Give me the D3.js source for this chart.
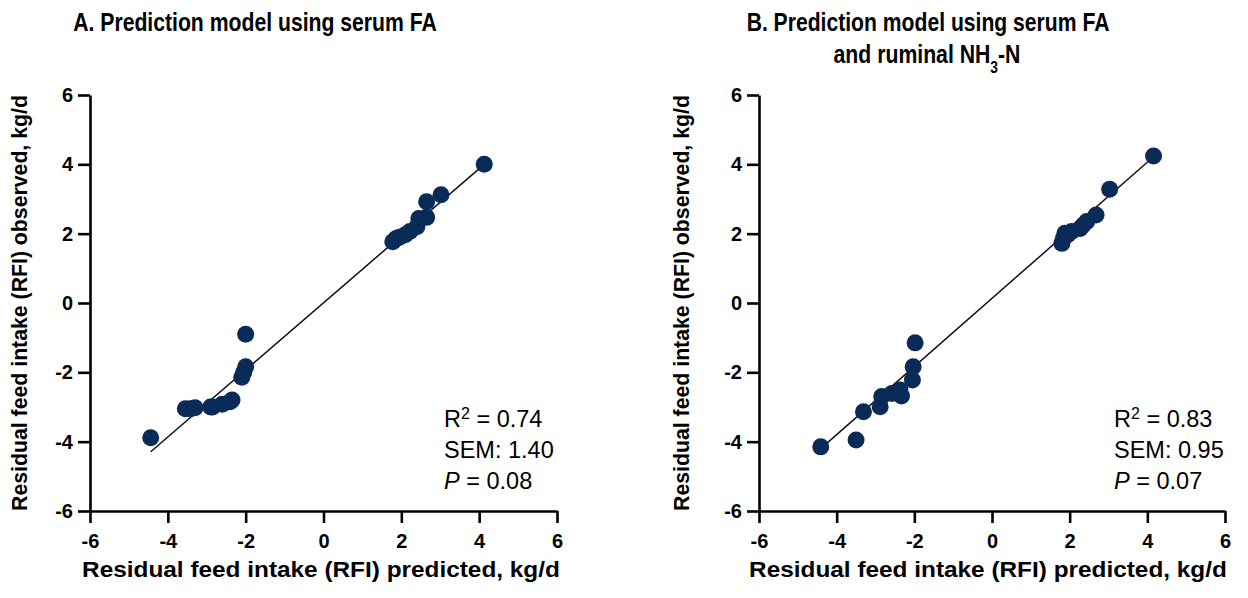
<!DOCTYPE html>
<html>
<head>
<meta charset="utf-8">
<script src="https://cdn.jsdelivr.net/npm/d3@7"></script>
<style>
  body { margin: 0; background: #fff; }
  svg text { fill: #000; }
</style>
</head>
<body>
<div id="chart"></div>
<script>
var svgWidth = 1248;
var svgHeight = 598;

// Data
var tickValues = [-6, -4, -2, 0, 2, 4, 6];

var predA = [-4.44, -3.55, -3.42, -3.3, -2.9, -2.85, -2.6, -2.4, -2.35, -2.1, -2.05, -2.0, -2.0,
             1.78, 1.86, 1.95, 2.1, 2.22, 2.4, 2.45, 2.65, 2.65, 3.02, 4.13];
var obsA  = [-3.89, -3.05, -3.05, -3.02, -3.0, -3.0, -2.92, -2.85, -2.8, -2.14, -2.0, -1.84, -0.9,
             1.77, 1.85, 1.9, 1.97, 2.06, 2.2, 2.44, 2.47, 2.92, 3.12, 4.0];
var lineA = {x: [-4.44, 4.13], y: [-4.29, 4.0]};

var predB = [-4.41, -3.5, -3.31, -2.88, -2.84, -2.58, -2.37, -2.33, -2.05, -2.03, -1.98,
             1.8, 1.84, 1.88, 1.95, 2.05, 2.27, 2.35, 2.44, 2.68, 3.03, 4.16];
var obsB  = [-4.15, -3.95, -3.14, -2.99, -2.7, -2.61, -2.51, -2.68, -2.22, -1.84, -1.15,
             1.72, 1.87, 2.01, 1.97, 2.06, 2.15, 2.25, 2.35, 2.54, 3.28, 4.24];
var lineB = {x: [-4.41, 4.16], y: [-4.2, 4.22]};

var statsA = ["0.74", "1.40", "0.08"];
var statsB = ["0.83", "0.95", "0.07"];

var dotColor = "#0a2a57";
var narrowFont = "'Liberation Sans Narrow', 'Arial Narrow', 'Liberation Sans', Arial, sans-serif";
var plainFont = "'Liberation Sans', Arial, sans-serif";

var svg = d3.select("#chart")
    .append("svg")
    .attr("width", svgWidth)
    .attr("height", svgHeight);

// squeeze a text horizontally to a measured width, around its anchor
function fit(sel, w, base) {
    var bw = sel.node().getBBox().width;
    var k = w / bw;
    sel.attr("transform", base + " scale(" + k + ",1)");
}

function drawPanel(opt) {
    var x = d3.scaleLinear().domain([-6, 6]).range([opt.left, opt.right]);
    var y = d3.scaleLinear().domain([-6, 6]).range([511, 95]);

    var g = svg.append("g");

    var xAxis = g.append("g")
        .attr("transform", "translate(0,511)")
        .call(d3.axisBottom(x).tickValues(tickValues).tickFormat(d => String(d))
            .tickSize(12).tickSizeOuter(0).tickPadding(11));
    var yAxis = g.append("g")
        .attr("transform", `translate(${opt.left},0)`)
        .call(d3.axisLeft(y).tickValues(tickValues).tickFormat(d => String(d))
            .tickSize(12).tickSizeOuter(0).tickPadding(5));

    [xAxis, yAxis].forEach(function(a) {
        a.selectAll("path, line").attr("stroke", "#000").attr("stroke-width", 2.6);
        a.selectAll("text")
            .attr("fill", "#000")
            .style("font-family", plainFont)
            .style("font-weight", "bold")
            .style("font-size", "20px");
    });

    // regression line
    g.append("line")
        .attr("x1", x(opt.line.x[0])).attr("y1", y(opt.line.y[0]))
        .attr("x2", x(opt.line.x[1])).attr("y2", y(opt.line.y[1]))
        .attr("stroke", "#111").attr("stroke-width", 1.5);

    // dots
    g.selectAll("circle")
        .data(opt.pred)
        .enter()
        .append("circle")
        .attr("cx", d => x(d))
        .attr("cy", (d, i) => y(opt.obs[i]))
        .attr("r", 8.5)
        .attr("fill", dotColor);

    // titles
    opt.title.forEach(function(t) {
        var tx = g.append("text")
            .attr("text-anchor", "middle")
            .style("font-family", narrowFont)
            .style("font-weight", "bold")
            .style("font-size", "26px");
        tx.append("tspan").text(t.text);
        if (t.sub) {
            tx.append("tspan").attr("baseline-shift", "sub").style("font-size", "17px").text(t.sub);
            tx.append("tspan").text(t.after);
        }
        fit(tx, t.w, `translate(${t.cx},${t.y})`);
    });

    // axis labels
    var xl = g.append("text")
        .attr("text-anchor", "middle")
        .style("font-family", plainFont)
        .style("font-weight", "bold")
        .style("font-size", "22px")
        .text("Residual feed intake (RFI) predicted, kg/d");
    fit(xl, 478, `translate(${opt.xlabX},577)`);

    var yl = g.append("text")
        .attr("text-anchor", "middle")
        .style("font-family", plainFont)
        .style("font-weight", "bold")
        .style("font-size", "22px")
        .text("Residual feed intake (RFI) observed, kg/d");
    fit(yl, 416, `translate(${opt.ylabX},303) rotate(-90)`);

    // stats
    var st = g.append("g")
        .style("font-family", plainFont)
        .style("font-size", "23.5px");
    var r2 = st.append("text").attr("x", opt.statX).attr("y", 427);
    r2.append("tspan").text("R");
    r2.append("tspan").attr("baseline-shift", "super").style("font-size", "16px").text("2");
    r2.append("tspan").text(" = " + opt.stats[0]);
    st.append("text").attr("x", opt.statX).attr("y", 458).text("SEM: " + opt.stats[1]);
    var p = st.append("text").attr("x", opt.statX).attr("y", 489);
    p.append("tspan").style("font-style", "italic").text("P");
    p.append("tspan").text(" = " + opt.stats[2]);
}

drawPanel({
    left: 90, right: 557,
    pred: predA, obs: obsA, line: lineA, stats: statsA,
    title: [{text: "A. Prediction model using serum FA", cx: 255, y: 31, w: 364}],
    xlabX: 321, ylabX: 27, statX: 444
});

drawPanel({
    left: 759, right: 1225,
    pred: predB, obs: obsB, line: lineB, stats: statsB,
    title: [
        {text: "B. Prediction model using serum FA", cx: 928, y: 31, w: 363},
        {text: "and ruminal NH", sub: "3", after: "-N", cx: 927, y: 63, w: 187}
    ],
    xlabX: 988, ylabX: 689, statX: 1114
});
</script>
</body>
</html>
